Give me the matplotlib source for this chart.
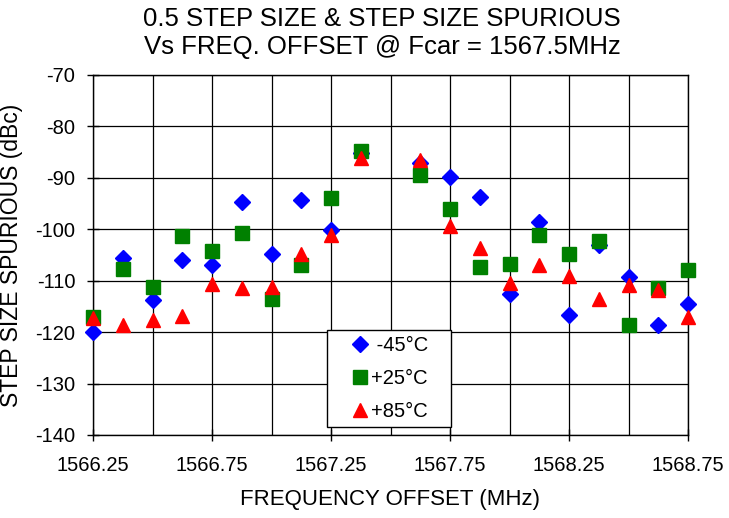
import matplotlib
matplotlib.use("Agg")
import matplotlib.pyplot as plt
from matplotlib.patches import Rectangle
import numpy as np

plt.rcParams['font.family'] = ['Liberation Sans', 'DejaVu Sans']
plt.rcParams['axes.unicode_minus'] = False

# frequency offsets (MHz); no point at the carrier 1567.5
freq = [1566.25, 1566.375, 1566.5, 1566.625, 1566.75, 1566.875, 1567.0, 1567.125,
        1567.25, 1567.375, 1567.625, 1567.75, 1567.875, 1568.0, 1568.125, 1568.25,
        1568.375, 1568.5, 1568.625, 1568.75]

# step size spurious (dBc) per temperature
m45 = [-120.0, -105.6, -113.8, -105.9, -106.9, -94.7, -104.9, -94.4,
       -100.2, -85.2, -87.1, -89.8, -93.8, -112.6, -98.6, -116.7,
       -103.0, -109.3, -118.6, -114.5]
p25 = [-117.0, -107.8, -111.2, -101.4, -104.3, -100.7, -113.5, -106.9,
       -94.0, -84.8, -89.5, -96.0, -107.3, -106.7, -101.1, -104.9,
       -102.2, -118.6, -111.4, -108.0]
p85 = [-117.2, -118.6, -117.6, -116.9, -110.6, -111.5, -111.2, -104.9,
       -101.2, -86.1, -86.5, -99.4, -103.6, -110.4, -106.9, -109.1,
       -113.5, -110.9, -111.9, -117.0]

labels = [" -45°C", "+25°C", "+85°C"]

fig = plt.figure(figsize=(7.29, 5.18), dpi=100)
ax = fig.add_axes([93/729, 1-435/518, (688-93)/729, (435-75)/518])

ax.plot(freq, m45, linestyle='none', marker='D', ms=7.8, color='#0000ff', mec='#0000ff',
        label=labels[0], clip_on=False, zorder=3)
ax.plot(freq, p25, linestyle='none', marker='s', ms=10.5, color='#008000', mec='#008000',
        label=labels[1], clip_on=False, zorder=3)
ax.plot(freq, p85, linestyle='none', marker='^', ms=10.3, color='#ff0000', mec='#ff0000',
        label=labels[2], clip_on=False, zorder=3)

ax.set_xlim(1566.25, 1568.75)
ax.set_ylim(-140, -70)
ax.set_xticks(np.arange(1566.25, 1568.76, 0.5))
ax.set_xticks(np.arange(1566.25, 1568.76, 0.25), minor=True)
ax.set_xticklabels([f"{v:.2f}" for v in np.arange(1566.25, 1568.76, 0.5)])
ax.set_yticks(np.arange(-140, -69, 10))
ax.tick_params(axis='both', which='major', direction='inout', length=8.6, width=1, labelsize=14.5)
ax.tick_params(axis='y', which='major', pad=8.5)
ax.tick_params(axis='x', which='major', pad=11)
ax.tick_params(axis='x', which='minor', length=0)
ax.grid(True, which='both', color='black', linewidth=0.9)
ax.set_axisbelow(True)
for s in ax.spines.values():
    s.set_color('black')
    s.set_linewidth(1)

ax.set_xlabel("FREQUENCY OFFSET (MHz)", fontsize=16)
ax.xaxis.set_label_coords(0.5, -(489-435)/360)
ax.set_ylabel("STEP SIZE SPURIOUS (dBc)", fontsize=16.5)
ax.yaxis.set_label_coords(-(93-23)/595, 0.5)
fig.text(382/729, 1-19/518, "0.5 STEP SIZE & STEP SIZE SPURIOUS", ha='center', va='center', fontsize=18.5)
fig.text(382/729, 1-47/518, "Vs FREQ. OFFSET @ Fcar = 1567.5MHz", ha='center', va='center', fontsize=18.5)

# legend box drawn separately so its padding can match the reference
box = Rectangle((0.393, 0.022), 0.208, 0.27, transform=ax.transAxes, facecolor='white',
                edgecolor='black', linewidth=1, zorder=4, clip_on=False)
ax.add_patch(box)
leg = ax.legend(loc='center', bbox_to_anchor=(0.496, 0.022 + 0.27/2), fontsize=14.5,
                frameon=False, labelspacing=0.68, handletextpad=-0.05, handlelength=1.2,
                borderaxespad=0, borderpad=0)
leg.set_zorder(5)

fig.savefig("out.png", dpi=100)
